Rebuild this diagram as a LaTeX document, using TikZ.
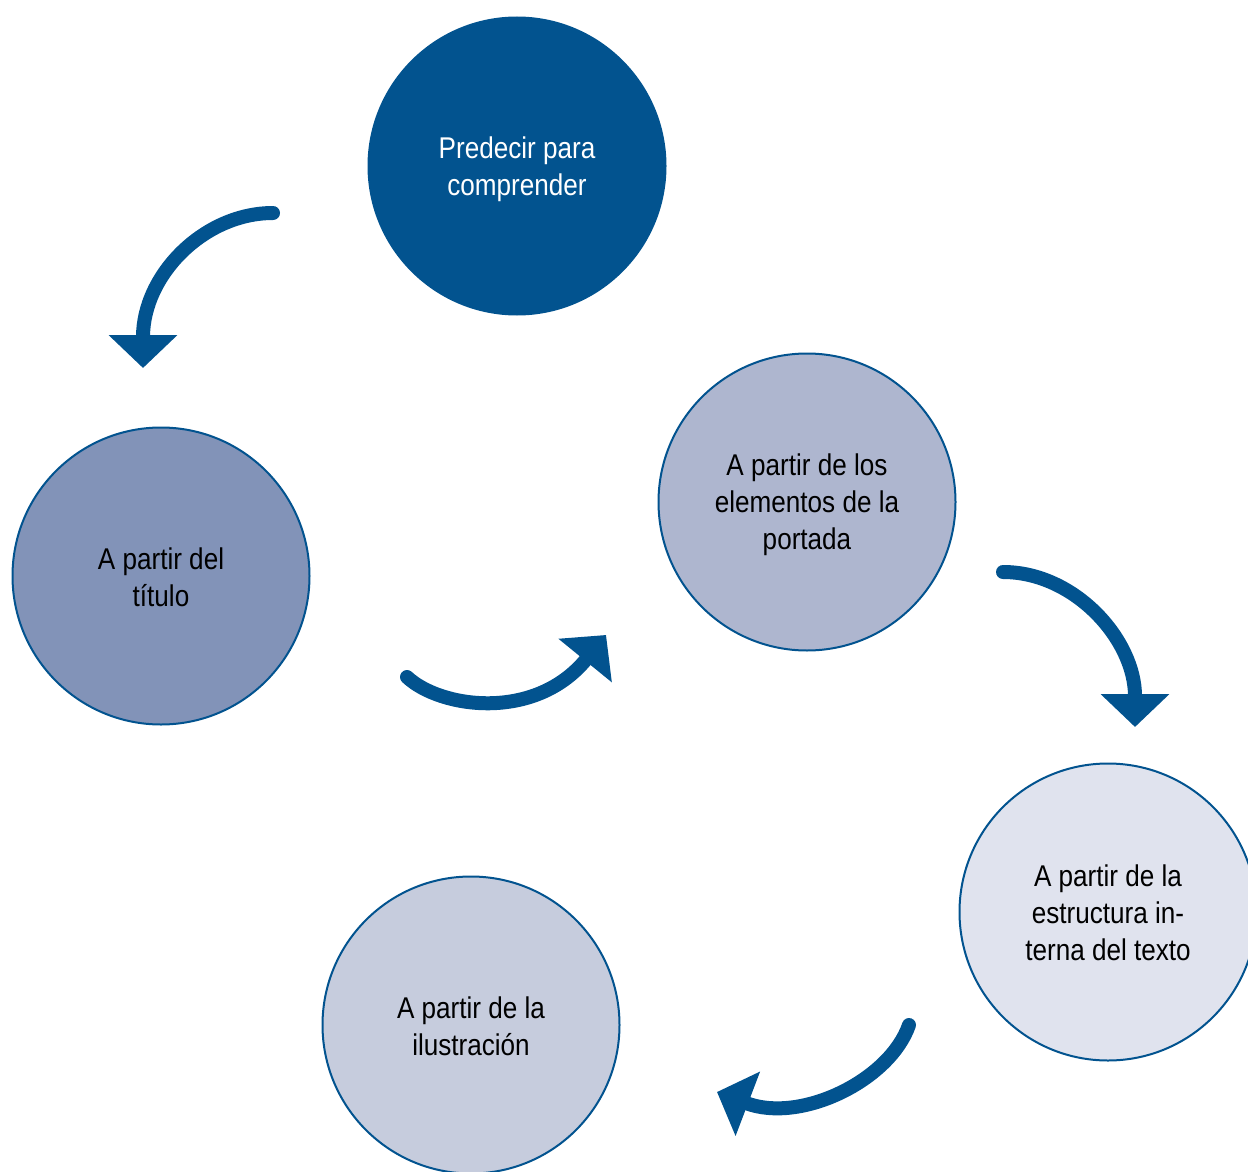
\documentclass[tikz,border=0pt]{standalone}
\usepackage{fontspec}
\setmainfont[FakeStretch=0.87]{Liberation Sans}
\usetikzlibrary{arrows.meta}
\definecolor{dblue}{HTML}{02538F}
\definecolor{cleft}{HTML}{8293B8}
\definecolor{cmid}{HTML}{AEB6CF}
\definecolor{cright}{HTML}{E0E3EE}
\definecolor{cbot}{HTML}{C6CCDD}
\begin{document}
\begin{tikzpicture}[x=1pt,y=-1pt,
  bubble/.style={circle,draw=dblue,line width=2pt,minimum size=297pt,inner sep=0pt},
  txt/.style={align=center,inner sep=0pt,font=\fontsize{30}{37}\selectfont,text=black},
  curvedarrow/.style={draw=dblue,line width=14pt,line cap=round,
    -{Triangle[width=67pt,length=33pt]}}]
\useasboundingbox (0,0) rectangle (1248,1172);
\node[bubble,fill=dblue] (top) at (517,166) {};
\node[bubble,fill=cleft] (left) at (161,576) {};
\node[bubble,fill=cmid] (mid) at (807,502) {};
\node[bubble,fill=cright] (right) at (1108,912) {};
\node[bubble,fill=cbot] (bot) at (471,1025) {};
\node[txt,text=white] (ttop) at ([yshift=-3pt]top.center) {Predecir para\\comprender};
\node[txt] (tleft) at ([yshift=-1pt]left.center) {A partir del\\título};
\node[txt] (tmid) at ([yshift=-3pt]mid.center) {A partir de los\\elementos de la\\portada};
\node[txt] (tright) at ([yshift=-1pt]right.center) {A partir de la\\estructura in-\\terna del texto};
\node[txt] (tbot) at ([yshift=-1pt]bot.center) {A partir de la\\ilustración};
\coordinate (a1s) at (273,213);
\coordinate (a1e) at (143,368);
\coordinate (a2s) at (407,677);
\coordinate (a2e) at (606,635);
\coordinate (a3s) at (1003,572);
\coordinate (a3e) at (1135,727);
\coordinate (a4s) at (909,1025);
\coordinate (a4e) at (717,1092);
\draw[curvedarrow] (a1s) .. controls (204,213) and (143,275) .. (a1e);
\draw[curvedarrow] (a2s) .. controls (440,708) and (535,722) .. (a2e);
\draw[curvedarrow] (a3s) .. controls (1075,572) and (1135,640) .. (a3e);
\draw[curvedarrow] (a4s) .. controls (890,1080) and (801,1124) .. (a4e);
\end{tikzpicture}
\end{document}
